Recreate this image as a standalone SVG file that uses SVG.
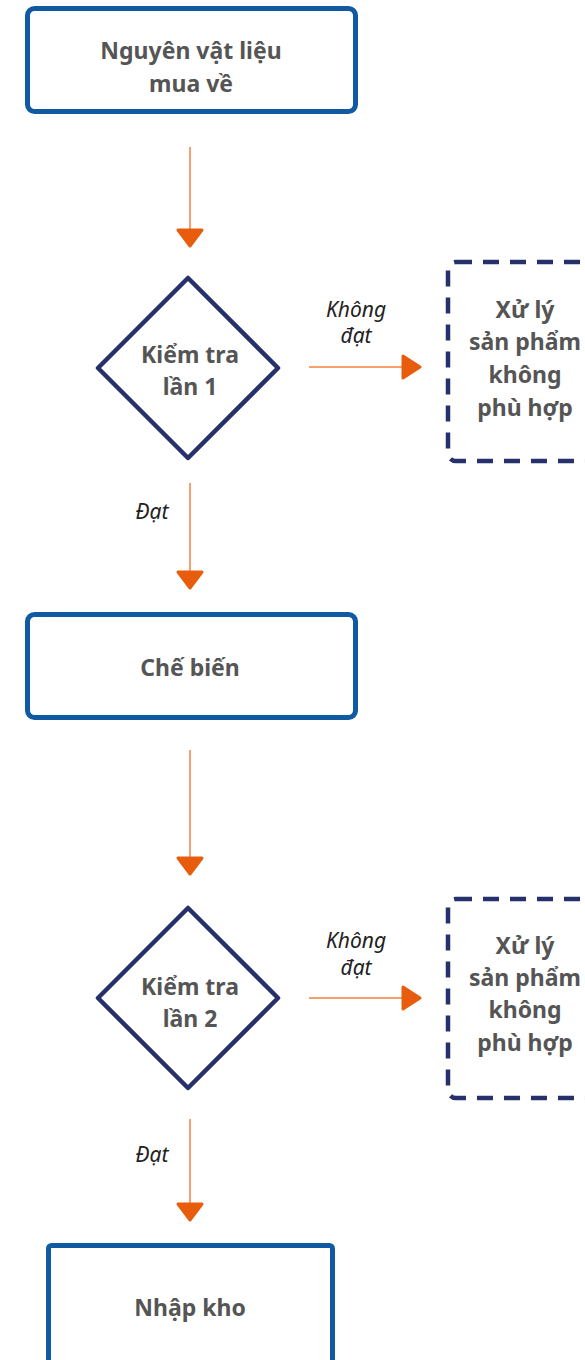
<svg xmlns="http://www.w3.org/2000/svg" width="585" height="1360" viewBox="0 0 585 1360">
<style>
.box{fill:#fff;stroke:#0f5aa0;stroke-width:5}
.dia{fill:#fff;stroke:#26316b;stroke-width:4.5;stroke-linejoin:round}
.dash{fill:#fff;stroke:#26316b;stroke-width:4.5;stroke-dasharray:16 11}
.t{font-family:"Noto Sans","Open Sans",sans-serif;font-weight:bold;font-size:23px;fill:#555;text-anchor:middle}
.l{font-family:"Noto Sans","Open Sans",sans-serif;font-style:italic;font-size:21px;fill:#222;text-anchor:middle}
.ln{stroke:#f5a06e;stroke-width:2}
.hd{fill:#e85c0d;stroke:#e85c0d;stroke-width:3;stroke-linejoin:round}
</style>
<rect width="585" height="1360" fill="#fff"/>
<g id="connectors">
<line class="ln" x1="190" y1="147" x2="190" y2="232"/>
<path class="hd" d="M178,230 L202,230 L190,246 Z"/>
<line class="ln" x1="309" y1="367" x2="404" y2="367"/>
<path class="hd" d="M403,356 L403,378 L420,367 Z"/>
<text class="l" x="356" y="317">Không</text>
<text class="l" x="356" y="343">đạt</text>
<line class="ln" x1="190" y1="483" x2="190" y2="574"/>
<path class="hd" d="M178,572 L202,572 L190,588 Z"/>
<text class="l" x="152" y="519">Đạt</text>
<line class="ln" x1="190" y1="750" x2="190" y2="860"/>
<path class="hd" d="M178,858 L202,858 L190,874 Z"/>
<line class="ln" x1="309" y1="998" x2="404" y2="998"/>
<path class="hd" d="M403,987 L403,1009 L420,998 Z"/>
<text class="l" x="356" y="948">Không</text>
<text class="l" x="356" y="975">đạt</text>
<line class="ln" x1="190" y1="1119" x2="190" y2="1206"/>
<path class="hd" d="M178,1204 L202,1204 L190,1220 Z"/>
<text class="l" x="152" y="1162">Đạt</text>
</g>
<g id="n1">
<rect class="box" x="27.5" y="8.5" width="328" height="103" rx="7"/>
<text class="t" x="191" y="59">Nguyên vật liệu</text>
<text class="t" x="191" y="92">mua về</text>
</g>
<g id="d1">
<path class="dia" d="M188,278 L278,368 L188,458 L98,368 Z"/>
<text class="t" x="190" y="363">Kiểm tra</text>
<text class="t" x="190" y="395">lần 1</text>
</g>
<g id="x1">
<rect class="dash" x="448" y="262" width="160" height="199" rx="8"/>
<text class="t" x="525" y="318">Xử lý</text>
<text class="t" x="525" y="350">sản phẩm</text>
<text class="t" x="525" y="383">không</text>
<text class="t" x="525" y="416">phù hợp</text>
</g>
<g id="n2">
<rect class="box" x="27.5" y="614.5" width="328" height="103" rx="7"/>
<text class="t" x="190" y="676">Chế biến</text>
</g>
<g id="d2">
<path class="dia" d="M188,908 L278,998 L188,1088 L98,998 Z"/>
<text class="t" x="190" y="995">Kiểm tra</text>
<text class="t" x="190" y="1027">lần 2</text>
</g>
<g id="x2">
<rect class="dash" x="448" y="899" width="160" height="199" rx="8"/>
<text class="t" x="525" y="954">Xử lý</text>
<text class="t" x="525" y="986">sản phẩm</text>
<text class="t" x="525" y="1018">không</text>
<text class="t" x="525" y="1051">phù hợp</text>
</g>
<g id="n3">
<rect class="box" x="48.5" y="1245.5" width="284" height="140" rx="3"/>
<text class="t" x="190" y="1316">Nhập kho</text>
</g>
</svg>
